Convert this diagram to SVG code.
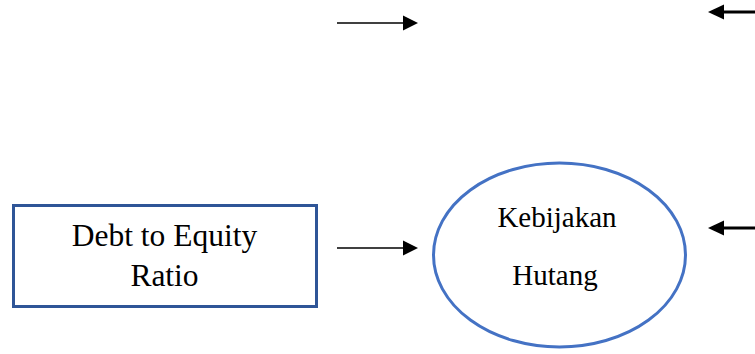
<svg xmlns="http://www.w3.org/2000/svg" width="755" height="354" viewBox="0 0 755 354">
<style>
.t{font-family:"Liberation Serif","Times New Roman",serif;fill:#000;text-anchor:middle}
.ln{stroke:#000;stroke-width:1.5;fill:none}
.lnb{stroke:#000;stroke-width:3;fill:none}
.hd{fill:#000}
</style>
<rect width="755" height="354" fill="#fff"/>
<g id="connectors">
<line class="ln" x1="337" y1="23" x2="404" y2="23"/>
<polygon class="hd" points="418,23 403,15.5 403,30.5"/>
<line class="ln" x1="337" y1="248" x2="404" y2="248"/>
<polygon class="hd" points="418,248 403,240.5 403,255.5"/>
<line class="lnb" x1="722" y1="12" x2="755" y2="12"/>
<polygon class="hd" points="708,12 724,4.5 724,19.5"/>
<line class="lnb" x1="722" y1="228" x2="755" y2="228"/>
<polygon class="hd" points="708,228 724,220.5 724,235.5"/>
</g>
<g id="node-der">
<rect x="13.5" y="205.5" width="303" height="101" fill="#fff" stroke="#2F5597" stroke-width="3"/>
<text class="t" x="164.5" y="246" font-size="31.5">Debt to Equity</text>
<text class="t" x="164.5" y="286" font-size="31.5">Ratio</text>
</g>
<g id="node-kebijakan">
<ellipse cx="559.5" cy="255" rx="126" ry="92" fill="#fff" stroke="#4472C4" stroke-width="3"/>
<text class="t" x="557" y="227" font-size="29">Kebijakan</text>
<text class="t" x="555" y="285" font-size="29">Hutang</text>
</g>
</svg>
